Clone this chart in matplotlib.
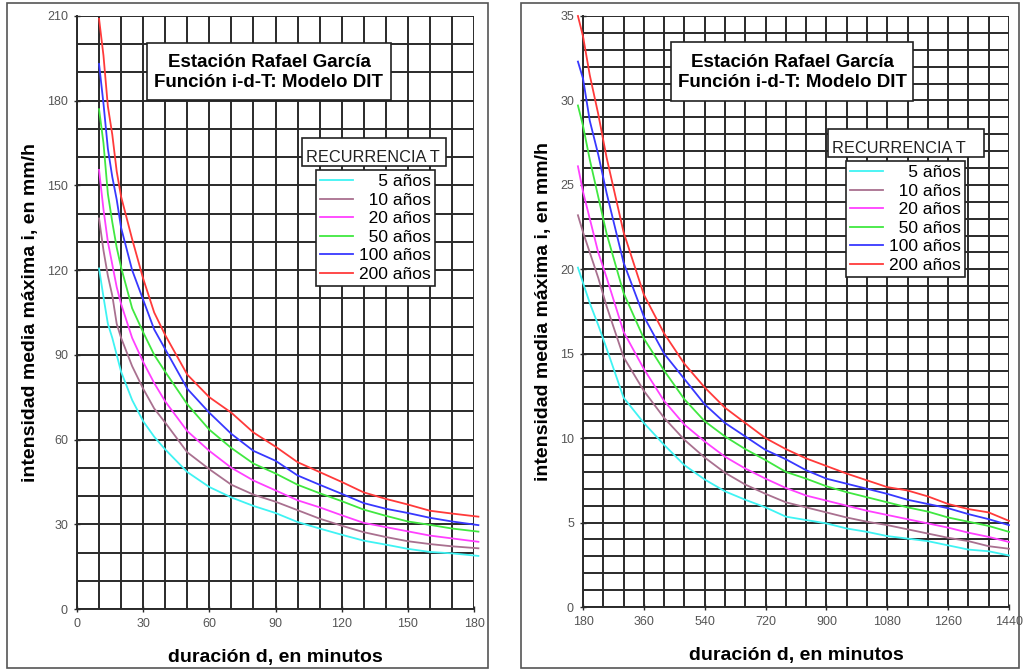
import matplotlib
matplotlib.use("Agg")
import matplotlib.pyplot as plt
from matplotlib.patches import Rectangle
from matplotlib.ticker import MultipleLocator

plt.rcParams['font.family'] = ['Liberation Sans', 'DejaVu Sans']

# ---------------- data ----------------
labels = ["\u2007\u20075 años", "\u200710 años", "\u200720 años", "\u200750 años", "100 años", "200 años"]
colors = ["#3ff3f3", "#a9708f", "#ff40ff", "#40e840", "#3838ff", "#ff3a3a"]

# left panel: duration 10-180 min
d_left = [10, 12, 14, 16, 18, 20, 25, 30, 35, 40, 50, 60, 70, 80, 90, 100, 110, 120, 130, 140, 150, 160, 170, 182]
i5_left = [120.6, 110.5, 101, 96, 90, 84, 74, 66.5, 61, 56.5, 48.5, 43.2, 39.5, 36.5, 34, 30.8, 28.5, 26.3, 24.2, 22.8, 21.3, 20.2, 19.7, 18.8]
i10_left = [138.3, 127, 118, 111, 101, 96, 86, 78, 71, 66, 55.5, 49.5, 44, 40.5, 38, 35, 32, 29.5, 27.2, 25.5, 24, 23, 22.2, 21.5]
i20_left = [155.5, 141.5, 130, 122, 114, 108, 96, 87.5, 80, 73.5, 63, 56, 50, 45.5, 42, 38.5, 36, 33.2, 30.5, 29, 27.5, 26, 25, 23.8]
i50_left = [177, 165, 147, 137, 128, 121, 106.5, 98, 90, 84, 72.5, 63.5, 57, 51.5, 48, 44, 41, 38.2, 35.2, 33, 31, 29.8, 28.5, 27.4]
i100_left = [193, 179, 163, 153, 145, 135, 120, 109.5, 99, 92, 78, 69.5, 62, 56, 52.5, 47.3, 44, 40.8, 37.5, 35.5, 34, 32.3, 31, 29.7]
i200_left = [209, 196, 178, 168, 155, 146, 131, 117, 105, 97, 83, 75, 69.5, 62.5, 57.5, 52, 48.5, 45, 41.3, 39, 37, 34.8, 33.8, 32.7]

# right panel: duration 180-1440 min
d_right = [165, 180, 200, 225, 250, 300, 360, 420, 480, 540, 600, 660, 720, 780, 840, 900, 960, 1020, 1080, 1140, 1200, 1260, 1320, 1380, 1440]
i5_right = [20.1, 19.2, 18.0, 16.7, 15.3, 12.4, 10.9, 9.6, 8.4, 7.55, 6.85, 6.35, 5.9, 5.35, 5.15, 4.95, 4.65, 4.45, 4.2, 4.05, 3.9, 3.65, 3.4, 3.3, 3.05]
i10_right = [23.2, 22.2, 21.0, 19.5, 17.8, 14.8, 12.8, 11.2, 9.9, 8.85, 7.95, 7.25, 6.7, 6.2, 5.9, 5.6, 5.3, 5.05, 4.85, 4.6, 4.35, 4.1, 3.9, 3.6, 3.45]
i20_right = [26.1, 24.6, 23.0, 21.0, 19.5, 16.3, 14.1, 12.2, 10.8, 9.8, 8.9, 8.2, 7.6, 7.05, 6.6, 6.3, 6.0, 5.7, 5.45, 5.2, 4.95, 4.7, 4.4, 4.15, 3.85]
i50_right = [29.7, 28.5, 26.5, 24.3, 22.1, 18.6, 15.9, 14.0, 12.3, 11.0, 10.1, 9.35, 8.7, 8.0, 7.6, 7.15, 6.8, 6.5, 6.2, 5.9, 5.65, 5.3, 5.05, 4.8, 4.45]
i100_right = [32.3, 31.3, 28.8, 26.8, 24.5, 20.4, 17.2, 15.0, 13.5, 12.0, 10.9, 10.1, 9.3, 8.75, 8.1, 7.6, 7.3, 7.0, 6.7, 6.35, 6.1, 5.85, 5.5, 5.2, 4.85]
i200_right = [35.0, 33.8, 31.5, 29.2, 26.6, 22.2, 18.5, 16.2, 14.4, 13.0, 11.8, 10.9, 10.0, 9.35, 8.8, 8.35, 7.9, 7.5, 7.1, 6.9, 6.55, 6.1, 5.8, 5.6, 5.1]

series_left = [i5_left, i10_left, i20_left, i50_left, i100_left, i200_left]
series_right = [i5_right, i10_right, i20_right, i50_right, i100_right, i200_right]

title_lines = "Estación Rafael García\nFunción i-d-T: Modelo DIT"
legend_title = "RECURRENCIA T"
xlabel = "duración d, en minutos"
ylabel = "intensidad media máxima i, en mm/h"

# ---------------- figure ----------------
W, H = 1026, 672
fig = plt.figure(figsize=(W / 100, H / 100), dpi=100)
fig.patch.set_facecolor("white")


def fx(px):
    return px / W


def fy(py):
    return 1 - py / H


def frect(x0, y0, x1, y1, **kw):
    r = Rectangle((fx(x0), fy(y1)), fx(x1) - fx(x0), fy(y0) - fy(y1),
                  transform=fig.transFigure, **kw)
    fig.add_artist(r)
    return r


# outer panel frames
frect(7, 3, 488, 668, fill=False, edgecolor="#555555", lw=1.2, zorder=0)
frect(521, 3, 1019, 668, fill=False, edgecolor="#555555", lw=1.2, zorder=0)

grid_col = "#2a2a2a"


def setup_axes(ax, xlim, ylim, xmaj, xmin, ymaj, ymin):
    ax.set_xlim(*xlim)
    ax.set_ylim(*ylim)
    ax.xaxis.set_major_locator(MultipleLocator(xmaj))
    ax.xaxis.set_minor_locator(MultipleLocator(xmin))
    ax.yaxis.set_major_locator(MultipleLocator(ymaj))
    ax.yaxis.set_minor_locator(MultipleLocator(ymin))
    ax.grid(True, which="both", color=grid_col, lw=1.4)
    ax.set_axisbelow(True)
    for s in ["top", "right"]:
        ax.spines[s].set_visible(False)
    for s in ["left", "bottom"]:
        ax.spines[s].set_color(grid_col)
        ax.spines[s].set_linewidth(1.4)
    ax.tick_params(which="major", direction="inout", length=5, width=1, colors=grid_col,
                   labelsize=9, labelcolor="#555555", pad=4)
    ax.tick_params(which="minor", length=0)
    ax.set_xlabel(xlabel, fontsize=14, fontweight="bold", labelpad=14)
    ax.set_ylabel(ylabel, fontsize=14, fontweight="bold", labelpad=6)


axL = fig.add_axes([fx(77), fy(609), fx(474) - fx(77), fy(16) - fy(609)])
setup_axes(axL, (0, 180), (0, 210), 30, 10, 30, 10)
handlesL = []
for s, c, lab in zip(series_left, colors, labels):
    ln, = axL.plot(d_left, s, color=c, lw=1.3, label=lab, clip_on=False, zorder=3)
    handlesL.append(ln)

axR = fig.add_axes([fx(583), fy(607), fx(1009) - fx(583), fy(16) - fy(607)])
setup_axes(axR, (180, 1440), (0, 35), 180, 60, 5, 1)
handlesR = []
for s, c, lab in zip(series_right, colors, labels):
    ln, = axR.plot(d_right, s, color=c, lw=1.3, label=lab, clip_on=False, zorder=3)
    handlesR.append(ln)
axR.set_xticks([180, 360, 540, 720, 900, 1080, 1260, 1440])
axR.set_xticklabels(["180", "360", "540", "720", "900", "1080", "1260", "1440"])


# title boxes
def title_box(x0, y0, x1, y1):
    frect(x0, y0, x1, y1, facecolor="white", edgecolor="#222222", lw=1.2, zorder=5)
    fig.text(fx((x0 + x1) / 2), fy((y0 + y1) / 2 + 1), title_lines, ha="center", va="center",
             fontsize=13.5, fontweight="bold", linespacing=1.2, zorder=6)


title_box(147, 43, 391, 100)
title_box(671, 42, 913, 101)


# legend title boxes + legends
def legend_block(handles, tb, lb, tsize):
    x0, y0, x1, y1 = tb
    frect(x0, y0, x1, y1, facecolor="white", edgecolor="#222222", lw=1.2, zorder=5)
    fig.text(fx(x0 + 4), fy(y1 - 4), legend_title, ha="left", va="baseline",
             fontsize=tsize, zorder=6, color="#222222")
    lx0, ly0 = lb
    leg = fig.legend(handles=handles, loc="upper left", bbox_to_anchor=(fx(lx0), fy(ly0)),
                     bbox_transform=fig.transFigure, frameon=True, fancybox=False,
                     edgecolor="#222222", framealpha=1, fontsize=12.5, handlelength=1.9,
                     handletextpad=0.35, labelspacing=0.2, borderpad=0.22, borderaxespad=0)
    leg.get_frame().set_linewidth(1.2)
    leg.set_zorder(7)
    return leg


legend_block(handlesL, (302, 138, 446, 166), (316, 170), 11.8)
legend_block(handlesR, (828, 129, 984, 157), (846, 161), 11.8)

fig.savefig("out.png", dpi=100, facecolor="white")
